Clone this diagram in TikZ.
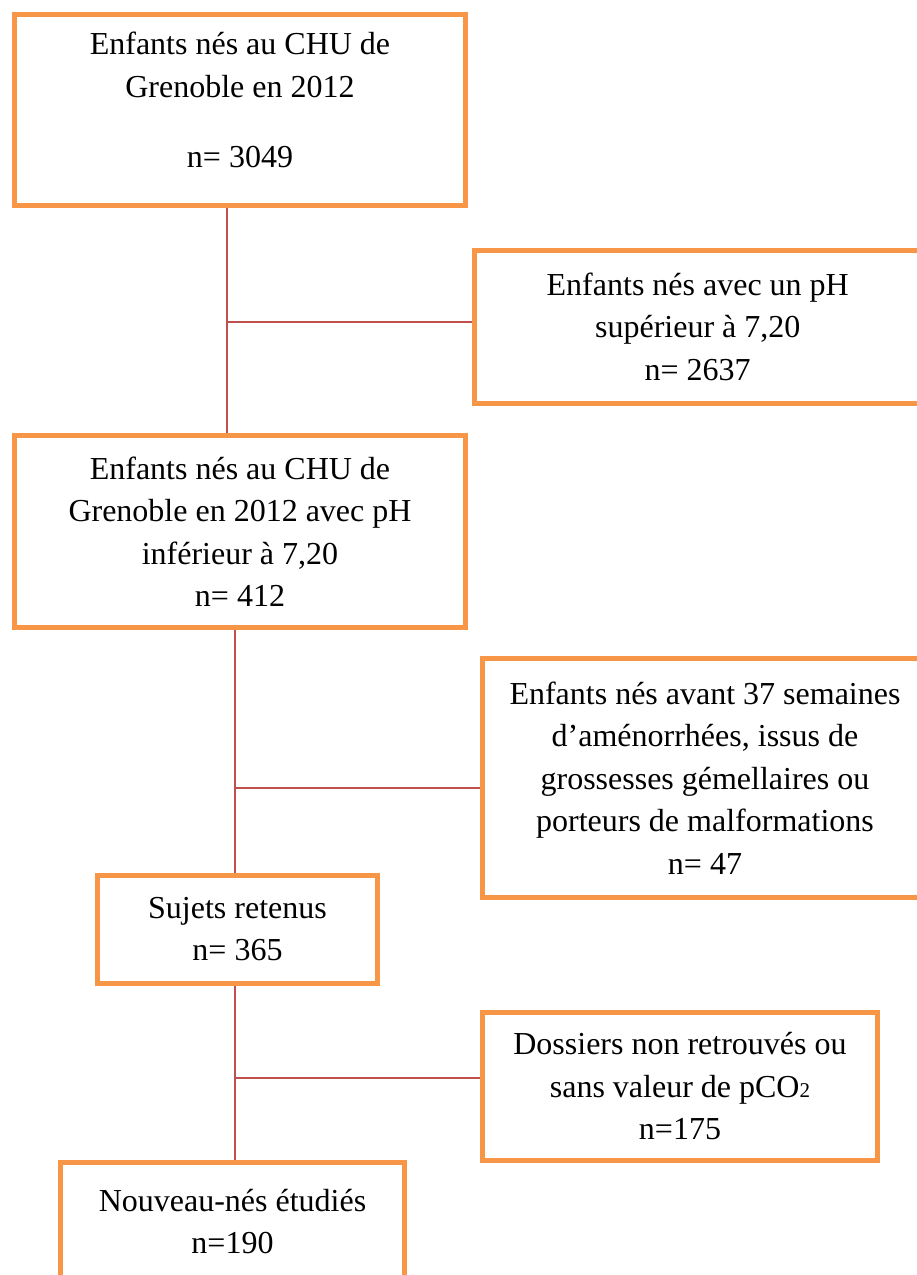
\documentclass[tikz,border=0pt]{standalone}
\usepackage{fontspec}
\setmainfont{Liberation Serif}
\usepackage{tikz}
\definecolor{cadre}{RGB}{247,150,70}
\definecolor{trait}{RGB}{192,80,77}

\begin{document}
\begin{tikzpicture}[x=1pt, y=-1pt,
	boite/.style={draw=cadre, line width=5pt, rectangle, align=center, inner sep=0pt,
		font=\fontsize{32}{42.5}\selectfont},
	lien/.style={draw=trait, line width=1.6pt}]

	\clip (0,0) rectangle (917,1275);

	% Etape 1
	\node[boite, minimum width=451, minimum height=191] (E1) at (240,110)
		{Enfants nés au CHU de\\ Grenoble en 2012\\[27.5pt] n= 3049\rule[-21pt]{0pt}{0pt}};
	\node[boite, minimum width=446.5, minimum height=153.5] (E2) at (697.75,326.75)
		{Enfants nés avec un pH\\ supérieur à 7,20\\ n= 2637};

	% Etape 2
	\node[boite, minimum width=451, minimum height=192] (E3) at (240,531.5)
		{Enfants nés au CHU de\\ Grenoble en 2012 avec pH\\ inférieur à 7,20\\ n= 412};
	\node[boite, minimum width=445, minimum height=239] (E4) at (705,778)
		{Enfants nés avant 37 semaines\\ d’aménorrhées, issus de\\ grossesses gémellaires ou\\ porteurs de malformations\\ n= 47};

	% Etape 3
	\node[boite, minimum width=280, minimum height=108] (E5) at (237.5,929)
		{Sujets retenus\\ n= 365};
	\node[boite, minimum width=395, minimum height=148] (E6) at (680,1086.5)
		{Dossiers non retrouvés ou\\ sans valeur de pCO{\fontsize{21}{21}\selectfont 2}\\ n=175};

	% Etape 4
	\node[boite, minimum width=344, minimum height=137.5] (E7) at (232.5,1231.25)
		{Nouveau-nés étudiés\\ n=190\rule[-20pt]{0pt}{0pt}};

	% Liens
	\coordinate (K1) at (227,322);
	\coordinate (K2) at (235,788);
	\coordinate (K3) at (235,1078);

	\draw[lien] (K1 |- E1.south) -- (K1 |- E3.north);
	\draw[lien] (K1) -- (K1 -| E2.west);

	\draw[lien] (K2 |- E3.south) -- (K2 |- E5.north);
	\draw[lien] (K2) -- (K2 -| E4.west);

	\draw[lien] (K3 |- E5.south) -- (K3 |- E7.north);
	\draw[lien] (K3) -- (K3 -| E6.west);

\end{tikzpicture}
\end{document}
